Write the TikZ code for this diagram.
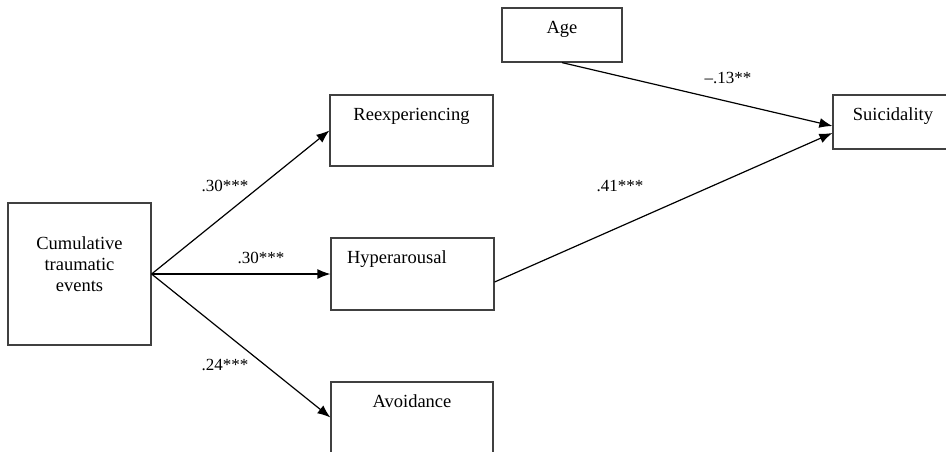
\documentclass[tikz,border=0pt]{standalone}
\usepackage{fontspec}
\setmainfont{Liberation Serif}
\usetikzlibrary{arrows.meta}
\begin{document}
\begin{tikzpicture}[x=1pt,y=-1pt,
    box/.style={draw=black!75,line width=1.2pt,inner sep=0pt,text height=12pt,font=\fontsize{18.5}{21}\selectfont},
    path/.style={-{Latex[length=13pt,width=10pt]},line width=1.2pt},
    coef/.style={inner sep=0pt,font=\fontsize{17}{20}\selectfont}]
    \useasboundingbox (0,0) rectangle (946,451);
    \node[box,minimum width=143pt,minimum height=142pt,align=center,text height=54pt,text depth=20pt] (cte) at (79.5,274) {Cumulative\\traumatic\\events};
    \node[box,minimum width=163pt,minimum height=71pt,text depth=33pt] (rex) at (411.5,130.5) {Reexperiencing};
    \node[box,minimum width=163pt,minimum height=72pt,text depth=34pt,inner xsep=16pt,text width=131pt,align=left] (hyp) at (412.5,274) {Hyperarousal};
    \node[box,minimum width=162pt,minimum height=71pt,text depth=33pt] (avo) at (412,417.5) {Avoidance};
    \node[box,minimum width=120pt,minimum height=54pt,text depth=16pt] (age) at (562,35) {Age};
    \node[box,minimum width=120pt,minimum height=54pt,text depth=16pt] (sui) at (893,122) {Suicidality};
    \node[coef] (w-rex) at (225,186) {.30***};
    \node[coef] (w-hyp) at (261,258) {.30***};
    \node[coef] (w-avo) at (225,365) {.24***};
    \node[coef] (w-age) at (728,78) {\textendash.13**};
    \node[coef] (w-sui) at (620,186) {.41***};
    \draw[path] (cte.east) -- (rex.west);
    \draw[path] (cte.east) -- (hyp.west);
    \draw[path] (cte.east) -- (avo.west);
    \draw[path] (age.south) -- ([yshift=-4pt]sui.west);
    \draw[path] ([yshift=-8pt]hyp.east) -- ([yshift=-11pt]sui.west);
  \end{tikzpicture}
\end{document}
